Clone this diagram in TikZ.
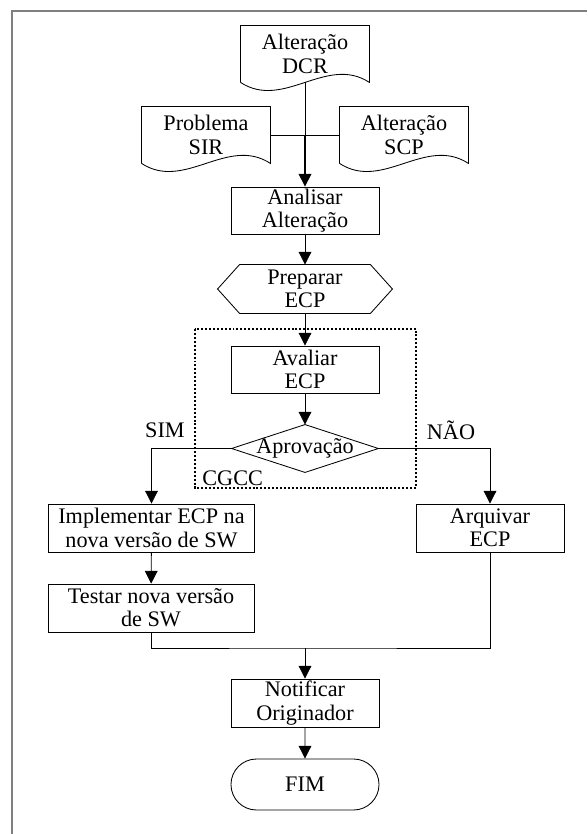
\documentclass[tikz,border=0pt]{standalone}
\usepackage{fontspec}
\setmainfont{Liberation Serif}
\usetikzlibrary{arrows.meta,shapes.misc,calc}
\tikzset{
 proc/.style={draw, minimum width=3.7cm, minimum height=1.175cm, inner sep=0pt, align=center},
 wideproc/.style={proc, minimum width=5.15cm, minimum height=1.2cm},
 docnode/.style={minimum width=3.2cm, minimum height=1.4cm, inner sep=0pt, align=center},
 plainnode/.style={inner sep=0pt, align=center},
 flow/.style={-{Triangle[width=9pt,length=9pt]}},
 frame/.style={draw=gray, line width=1.5pt}
}
% outline of a document symbol round a node
\newcommand{\docshape}[1]{\draw (#1.south west) -- (#1.north west) -- (#1.north east) -- (#1.south east) .. controls +(-43,-28) and +(43,28) .. (#1.south west);}
\begin{document}
\begin{tikzpicture}[x=0.025cm,y=-0.025cm,line width=0.6pt,font=\fontsize{15.8pt}{16.6pt}\selectfont]
\useasboundingbox (0,0) rectangle (587,834);
\draw[frame] (12,834)--(12,11)--(587,11);
 \node[docnode] (dcr) at (305,54) {Alteração\\DCR};
 \node[docnode] (sir) at (206,135) {Problema\\SIR};
 \node[docnode] (scp) at (404,135) {Alteração\\SCP};
 \docshape{dcr}
 \docshape{sir}
 \docshape{scp}
 \node[proc] (analisar) at (305,210.5) {Analisar\\Alteração};
 \node[plainnode, minimum width=3.25cm, minimum height=1.2cm] (preparar) at (305,289) {Preparar\\ECP};
 \draw (preparar.north west)--(preparar.north east)--($(preparar.east)+(22,0)$)--(preparar.south east)
  --(preparar.south west)--($(preparar.west)+(-22,0)$)--cycle;
 \node[proc] (avaliar) at (305,369.5) {Avaliar\\ECP};
 \node[plainnode, minimum width=3.65cm, minimum height=1.175cm] (aprovacao) at (305,448.5) {Aprovação};
 \draw (aprovacao.north)--(aprovacao.east)--(aprovacao.south)--(aprovacao.west)--cycle;
 \draw[dash pattern=on 1.4pt off 1.4pt, line width=0.9pt] (195,329) rectangle (416,488);
 \node[plainnode, anchor=base west] (cgcc) at (202,485) {CGCC};
 \node[plainnode] (sim) at (165,430) {SIM};
 \node[plainnode] (nao) at (451,430) {NÃO};
 \node[wideproc] (implementar) at (151.5,528) {Implementar ECP na\\nova versão de SW};
 \node[proc, minimum height=1.2cm] (arquivar) at (490,528) {Arquivar\\ECP};
 \node[wideproc] (testar) at (151,608) {Testar nova versão\\de SW};
 \node[proc, minimum height=1.2cm] (notificar) at (305,703) {Notificar\\Originador};
 \node[draw, rounded rectangle, minimum width=3.7cm, minimum height=1.275cm, inner sep=0pt] (fim) at (305,784.5) {FIM};
 \coordinate (juncao) at (dcr.south |- sir.east);
 \coordinate (uniao) at (305,648);
 \draw (dcr.south)--(juncao);
 \draw (sir.east)--(scp.west);
 \draw[flow, line width=1pt] (juncao)--(analisar.north);
 \draw[flow] (analisar)--(preparar);
 \draw[flow] (preparar)--(avaliar);
 \draw[flow] (avaliar)--(aprovacao.north);
 \draw[flow] (aprovacao.west)-|(implementar.north);
 \draw[flow] (aprovacao.east)-|(arquivar.north);
 \draw[flow] (implementar)--(testar);
 \draw (testar.south)|-(uniao)-|(arquivar.south);
 \draw[flow] (uniao)--(notificar);
 \draw[flow] (notificar)--(fim);
\end{tikzpicture}
\end{document}
